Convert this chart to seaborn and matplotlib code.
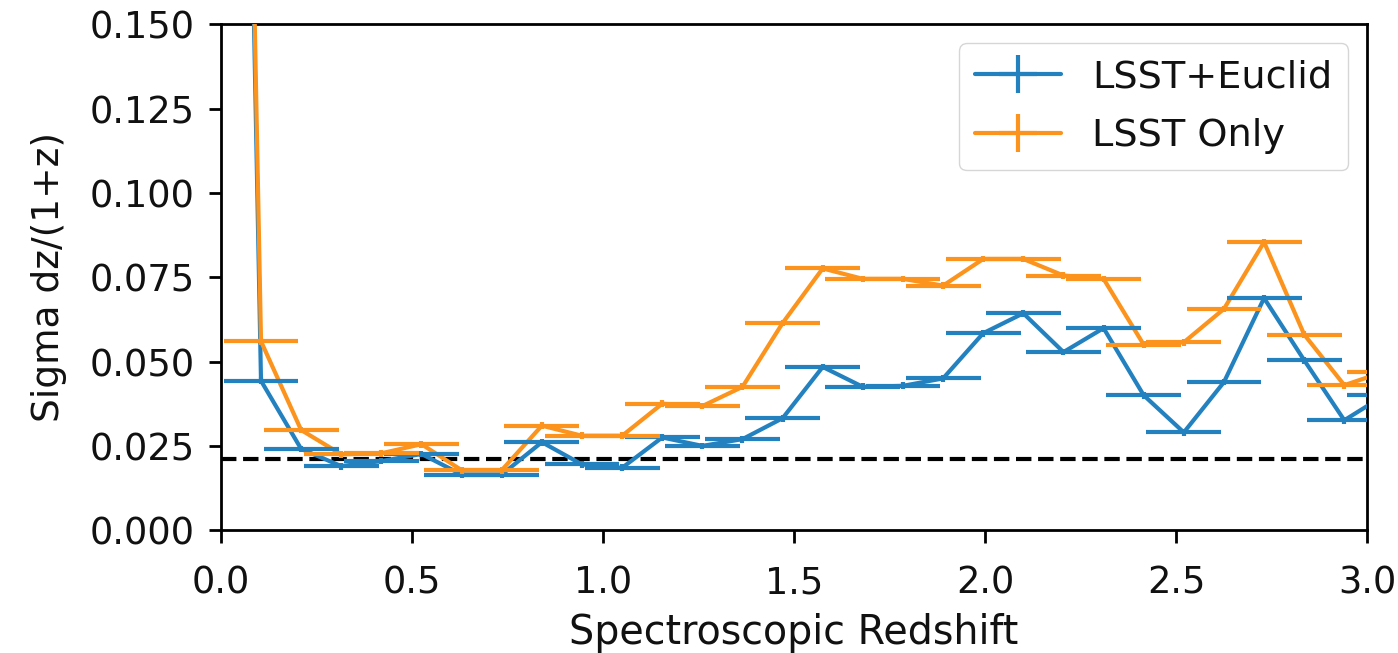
import numpy as np
import pandas as pd
import matplotlib
matplotlib.use("Agg")
import matplotlib.pyplot as plt
import seaborn as sns
from matplotlib.lines import Line2D
from matplotlib.legend_handler import HandlerTuple

# ---- data ----
redshift = [0.0, 0.105, 0.21, 0.315, 0.42, 0.525, 0.63, 0.735, 0.84, 0.945,
            1.05, 1.155, 1.26, 1.365, 1.47, 1.575, 1.68, 1.785, 1.89, 1.995,
            2.1, 2.205, 2.31, 2.415, 2.52, 2.625, 2.73, 2.835, 2.94, 3.045]
sigma_euclid = [0.65, 0.0443, 0.0241, 0.0190, 0.0205, 0.0226, 0.0165, 0.0165, 0.0261, 0.0195,
                0.0185, 0.0275, 0.0250, 0.0270, 0.0332, 0.0484, 0.0425, 0.0428, 0.0450, 0.0584,
                0.0643, 0.0528, 0.0599, 0.0400, 0.0290, 0.0439, 0.0688, 0.0504, 0.0326, 0.0400]
sigma_lsst = [0.66, 0.0560, 0.0297, 0.0225, 0.0228, 0.0255, 0.0178, 0.0178, 0.0310, 0.0280,
              0.0280, 0.0375, 0.0368, 0.0425, 0.0614, 0.0776, 0.0745, 0.0745, 0.0725, 0.0804,
              0.0804, 0.0755, 0.0745, 0.0550, 0.0557, 0.0656, 0.0854, 0.0580, 0.0430, 0.0470]
bin_halfwidth = [0.098] * len(redshift)
err_euclid = [0.001] * len(redshift)
err_lsst = [0.001] * len(redshift)
series_names = ["LSST+Euclid", "LSST Only"]
target_level = 0.021
xticks = [0.0, 0.5, 1.0, 1.5, 2.0, 2.5, 3.0]
yticks = [0.0, 0.025, 0.05, 0.075, 0.1, 0.125, 0.15]

sns.set_style("ticks")
plt.rcParams["font.family"] = ["DejaVu Sans"]
plt.rcParams["font.size"] = 26
plt.rcParams["text.color"] = "#111111"
plt.rcParams["axes.labelcolor"] = "#111111"

colors = ["#2381c0", "#fb931c"]

df = pd.DataFrame({
    "z": redshift * 2,
    "sigma": sigma_euclid + sigma_lsst,
    "series": [series_names[0]] * len(redshift) + [series_names[1]] * len(redshift),
})

fig = plt.figure(figsize=(13.98, 6.53), dpi=100)
ax = fig.add_axes([0.158, 0.188, 0.820, 0.775])

lw = 3.0
sns.lineplot(data=df, x="z", y="sigma", hue="series", palette=colors,
             hue_order=series_names, sort=False, estimator=None,
             linewidth=lw, legend=False, ax=ax, zorder=3)

handles = []
for name, ys, ye, c in zip(series_names, [sigma_euclid, sigma_lsst],
                           [err_euclid, err_lsst], colors):
    cont = ax.errorbar(redshift, ys, xerr=bin_halfwidth, yerr=ye, fmt="none",
                       ecolor=c, elinewidth=lw, capsize=0, zorder=3)
    handles.append((Line2D([], [], color=c, lw=lw), cont))

ax.axhline(target_level, color="black", linestyle="--", linewidth=3.0, zorder=2)

ax.set_xlim(0, 3.0)
ax.set_ylim(0, 0.15)
ax.set_xticks(xticks)
ax.set_yticks(yticks)
ax.set_xticklabels([f"{t:.1f}" for t in xticks])
ax.set_yticklabels([f"{t:.3f}" for t in yticks])
ax.set_xlabel("Spectroscopic Redshift", fontsize=28.5, labelpad=8)
ax.set_ylabel("Sigma dz/(1+z)", fontsize=27, labelpad=16)
for s in ax.spines.values():
    s.set_color("black")
    s.set_linewidth(2.0)
ax.tick_params(axis="both", colors="black", labelcolor="#111111", width=2.0,
               length=9, labelsize=26.5)
ax.tick_params(axis="x", pad=16)
ax.tick_params(axis="y", pad=10)

ax.legend(handles, series_names, handler_map={tuple: HandlerTuple(ndivide=1)},
          loc="upper right", fontsize=27.5, handlelength=2.25, framealpha=0.8,
          borderaxespad=0.5, borderpad=0.42, labelspacing=0.6, handletextpad=0.8)

fig.savefig("out.png", dpi=100)
